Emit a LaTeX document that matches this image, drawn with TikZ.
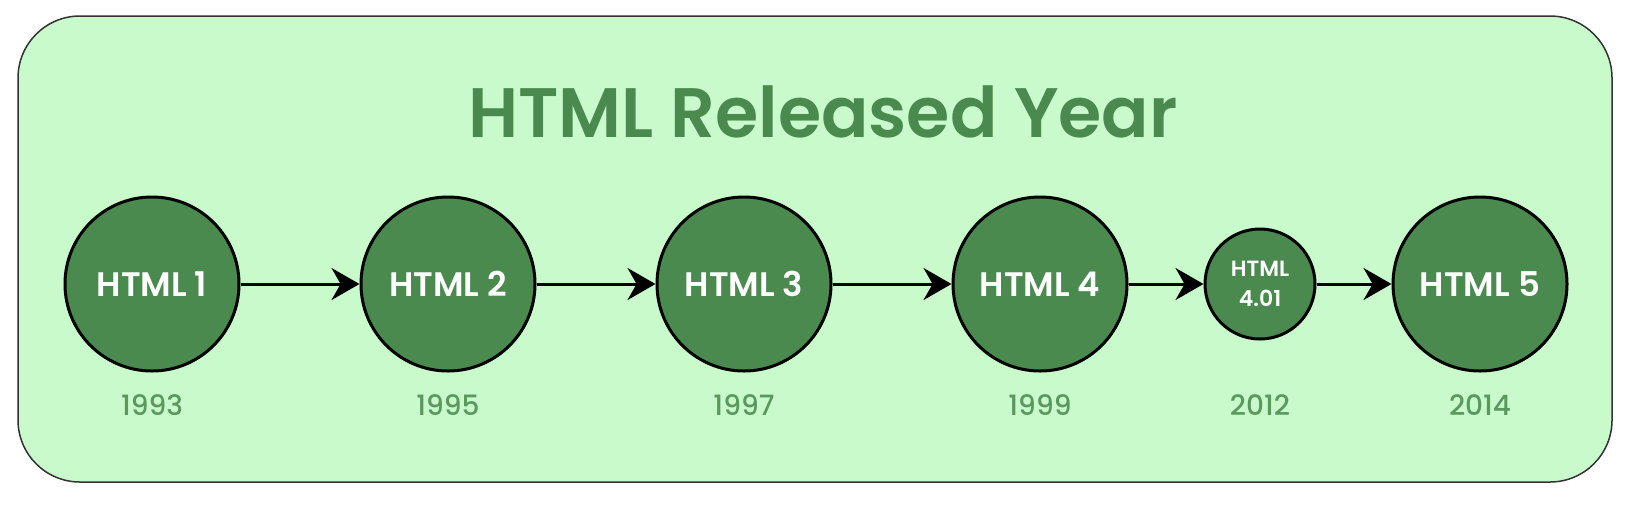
\documentclass[tikz,border=0pt]{standalone}
\usepackage{fontspec}
\setmainfont{Poppins}[BoldFont={Poppins SemiBold}]
\newfontfamily\popmed{Poppins Medium}
\usepackage{xcolor}
\usepackage{tikz}
\usetikzlibrary{arrows.meta,positioning}
\definecolor{mintbg}{HTML}{C8FACC}
\definecolor{leafgreen}{HTML}{4A8A4F}
\definecolor{yeargreen}{HTML}{5A985E}
\tikzset{
  relbig/.style={circle, draw=black, line width=1.5pt, fill=leafgreen, text=white, minimum size=87pt, inner sep=0pt, font=\fontsize{17}{20}\selectfont\bfseries},
  relsmall/.style={circle, draw=black, line width=1.5pt, fill=leafgreen, text=white, minimum size=55pt, inner sep=0pt, align=center, font=\fontsize{11}{15}\selectfont\bfseries},
  relyear/.style={inner sep=0pt, text=yeargreen, font=\fontsize{14}{16}\popmed},
  relarrow/.style={-{Stealth[length=14pt,width=16pt]}, line width=1.5pt}
}

\begin{document}
\begin{tikzpicture}
\useasboundingbox (0,0) rectangle (821pt,-263pt);
\draw[fill=mintbg, draw=black!80, line width=0.75pt, rounded corners=31pt] (9pt,-8pt) rectangle (806pt,-241pt);
\node[text=leafgreen, font=\fontsize{35}{40}\selectfont\bfseries] (title) at (411.5pt,-56pt) {HTML Released Year};
\node[relbig] (h1) at (76pt,-142pt) {HTML 1};
\node[relbig, right=59.5pt of h1] (h2) {HTML 2};
\node[relbig, right=59.5pt of h2] (h3) {HTML 3};
\node[relbig, right=59.5pt of h3] (h4) {HTML 4};
\node[relsmall, right=37.5pt of h4] (h401) {HTML\\4.01};
\node[relbig, right=37.5pt of h401] (h5) {HTML 5};
\node[relyear, below=11pt of h1] (y1) {1993};
\node[relyear, below=11pt of h2] (y2) {1995};
\node[relyear, below=11pt of h3] (y3) {1997};
\node[relyear, below=11pt of h4] (y4) {1999};
\node[relyear] (y401) at (h401 |- y4) {2012};
\node[relyear, below=11pt of h5] (y5) {2014};
\draw[relarrow] (h1) -- (h2);
\draw[relarrow] (h2) -- (h3);
\draw[relarrow] (h3) -- (h4);
\draw[relarrow] (h4) -- (h401);
\draw[relarrow] (h401) -- (h5);
\end{tikzpicture}
\end{document}
